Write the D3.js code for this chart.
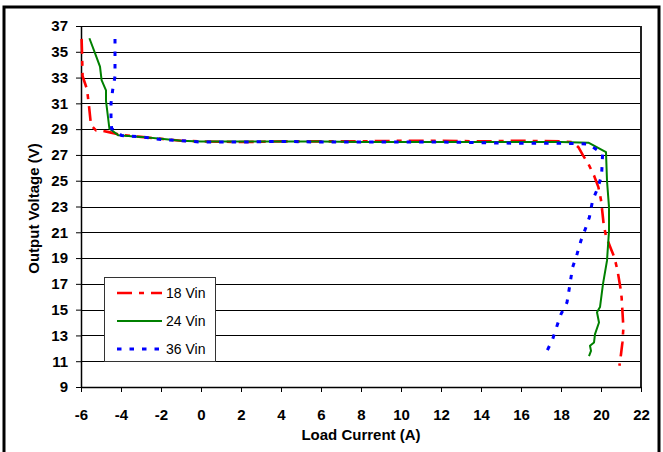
<!DOCTYPE html>
<html>
<head>
<meta charset="utf-8">
<script src="https://cdn.jsdelivr.net/npm/d3@7"></script>
<style>
  html, body { margin: 0; padding: 0; background: #fff; }
  svg { display: block; }
</style>
</head>
<body>
<svg id="chart" width="663" height="452"></svg>
<script>
// Output voltage vs. load current at three input voltages
const xTicks = [-6, -4, -2, 0, 2, 4, 6, 8, 10, 12, 14, 16, 18, 20, 22];
const yTicks = [9, 11, 13, 15, 17, 19, 21, 23, 25, 27, 29, 31, 33, 35, 37];

const seriesNames = ["18 Vin", "24 Vin", "36 Vin"];

// [load current (A), output voltage (V)]
const vin18 = [
  [-5.97, 36.0], [-5.95, 35.0], [-5.92, 33.1], [-5.7, 32.1], [-5.6, 30.8], [-5.5, 29.3],
  [-5.25, 28.9], [-5.05, 28.9], [-4.55, 28.75], [-4, 28.55], [-3, 28.4], [-2, 28.25],
  [-1, 28.1], [0, 28.05], [2, 28.0], [4, 28.05], [6, 28.05], [8, 28.05], [10, 28.1],
  [12, 28.1], [14, 28.05], [16, 28.1], [18, 28.05], [18.6, 28.0], [18.87, 27.6],
  [19.1, 26.97], [19.37, 26.3], [19.65, 25.4], [19.87, 24.5], [20.0, 23.5], [20.08, 22.4],
  [20.13, 21.65], [20.25, 20.7], [20.5, 19.7], [20.67, 19.06], [20.83, 18.0], [20.97, 16.7],
  [21.03, 15.95], [21.08, 14.65], [21.12, 13.6], [21.07, 12.44], [21.0, 11.54], [20.92, 10.65]
];
const vin24 = [
  [-5.58, 36.05], [-5.3, 34.9], [-5.05, 33.85], [-4.97, 32.8], [-4.75, 32.0], [-4.75, 31.2],
  [-4.58, 29.05], [-4.13, 28.52], [-3, 28.4], [-2, 28.25], [-1, 28.1], [0, 28.05], [2, 28.05],
  [4, 28.05], [6, 28.05], [8, 28.0], [10, 28.0], [12, 28.0], [14, 28.0], [16, 28.0], [18, 28.0],
  [19.37, 27.95], [20.25, 27.22], [20.3, 25.0], [20.4, 22.95], [20.4, 21.1], [20.3, 18.8],
  [20.1, 17.0], [19.95, 15.2], [19.8, 14.8], [19.9, 14.0], [19.7, 13.1], [19.65, 12.45],
  [19.45, 12.2], [19.5, 11.8], [19.4, 11.4]
];
const vin36 = [
  [-4.3, 36.0], [-4.3, 33.1], [-4.42, 32.0], [-4.5, 31.0], [-4.5, 29.95], [-4.47, 29.05],
  [-3.97, 28.5], [-3, 28.4], [-2, 28.2], [-1, 28.1], [0, 28.0], [2, 28.0], [4, 28.05],
  [6, 28.0], [8, 28.0], [10, 28.0], [12, 28.0], [14, 27.95], [16, 27.9], [18, 27.9],
  [18.78, 27.88], [19.37, 27.85], [20.08, 27.1], [20.03, 25.4], [19.83, 24.4], [19.58, 23.47],
  [19.42, 22.17], [19.25, 21.4], [19.0, 20.36], [18.8, 19.3], [18.58, 18.28], [18.42, 16.7],
  [18.3, 15.56], [18.0, 14.65], [17.83, 13.88], [17.58, 12.7], [17.3, 11.8]
];

const styles = [
  { color: "#ff0000", width: 2.6, dash: "15,7,5,7" },
  { color: "#008000", width: 2, dash: null },
  { color: "#0000ff", width: 3, dash: "4.5,8" }
];
const seriesData = [vin18, vin24, vin36];

const font = "'Liberation Sans', Arial, sans-serif";
const svg = d3.select("#chart");

// outer frame
svg.append("rect")
  .attr("x", 4).attr("y", 7).attr("width", 655).attr("height", 470)
  .attr("fill", "none").attr("stroke", "#000").attr("stroke-width", 3);

const L = 81, R = 641, T = 26, B = 387;
const x = d3.scaleLinear().domain([-6, 22]).range([L, R]);
const y = d3.scaleLinear().domain([9, 37]).range([B, T]);

// horizontal gridlines
svg.append("g").selectAll("line")
  .data(yTicks.filter(v => v > 9))
  .join("line")
  .attr("x1", L).attr("x2", R)
  .attr("y1", d => Math.round(y(d)) + 0.5).attr("y2", d => Math.round(y(d)) + 0.5)
  .attr("stroke", "#000").attr("stroke-width", 1);

// plot border (right side)
svg.append("line")
  .attr("x1", R).attr("x2", R).attr("y1", T).attr("y2", B)
  .attr("stroke", "#222").attr("stroke-width", 2);

// axes
const fmt = d => String(d);
const yAxis = svg.append("g")
  .attr("transform", `translate(${L},0)`)
  .call(d3.axisLeft(y).tickValues(yTicks).tickFormat(fmt).tickSize(5).tickPadding(8).tickSizeOuter(0));
const xAxis = svg.append("g")
  .attr("transform", `translate(0,${B})`)
  .call(d3.axisBottom(x).tickValues(xTicks).tickFormat(fmt).tickSize(5).tickPadding(17).tickSizeOuter(0));

[yAxis, xAxis].forEach(g => {
  g.selectAll("path.domain").attr("stroke", "#000").attr("stroke-width", 1.5);
  g.selectAll(".tick line").attr("stroke", "#000").attr("stroke-width", 1);
  g.selectAll(".tick text")
    .attr("fill", "#000")
    .style("font-family", font).style("font-weight", "bold").style("font-size", "15px");
});

// axis titles
svg.append("text")
  .attr("transform", `translate(39,${(T + B) / 2 + 2}) rotate(-90)`)
  .attr("text-anchor", "middle")
  .style("font-family", font).style("font-weight", "bold").style("font-size", "15px")
  .text("Output Voltage (V)");
svg.append("text")
  .attr("x", (L + R) / 2).attr("y", 440)
  .attr("text-anchor", "middle")
  .style("font-family", font).style("font-weight", "bold").style("font-size", "15px")
  .text("Load Current (A)");

// series lines
const line = d3.line().x(d => x(d[0])).y(d => y(d[1]));
svg.append("g").selectAll("path")
  .data(seriesData)
  .join("path")
  .attr("d", line)
  .attr("fill", "none")
  .attr("stroke", (d, i) => styles[i].color)
  .attr("stroke-width", (d, i) => styles[i].width)
  .attr("stroke-dasharray", (d, i) => styles[i].dash)
  .attr("stroke-linejoin", "round");

// legend
const lg = svg.append("g");
lg.append("rect")
  .attr("x", 104.5).attr("y", 277.5).attr("width", 111).attr("height", 84)
  .attr("fill", "#fff").attr("stroke", "#333").attr("stroke-width", 1);
const rows = lg.selectAll("g.row")
  .data(seriesNames)
  .join("g")
  .attr("class", "row")
  .attr("transform", (d, i) => `translate(0,${293 + i * 28})`);
rows.append("line")
  .attr("x1", 117).attr("x2", 162).attr("y1", 0).attr("y2", 0)
  .attr("stroke", (d, i) => styles[i].color)
  .attr("stroke-width", (d, i) => styles[i].width)
  .attr("stroke-dasharray", (d, i) => styles[i].dash);
rows.append("text")
  .attr("x", 166).attr("y", 5)
  .style("font-family", font).style("font-size", "14px")
  .text(d => d);
</script>
</body>
</html>
